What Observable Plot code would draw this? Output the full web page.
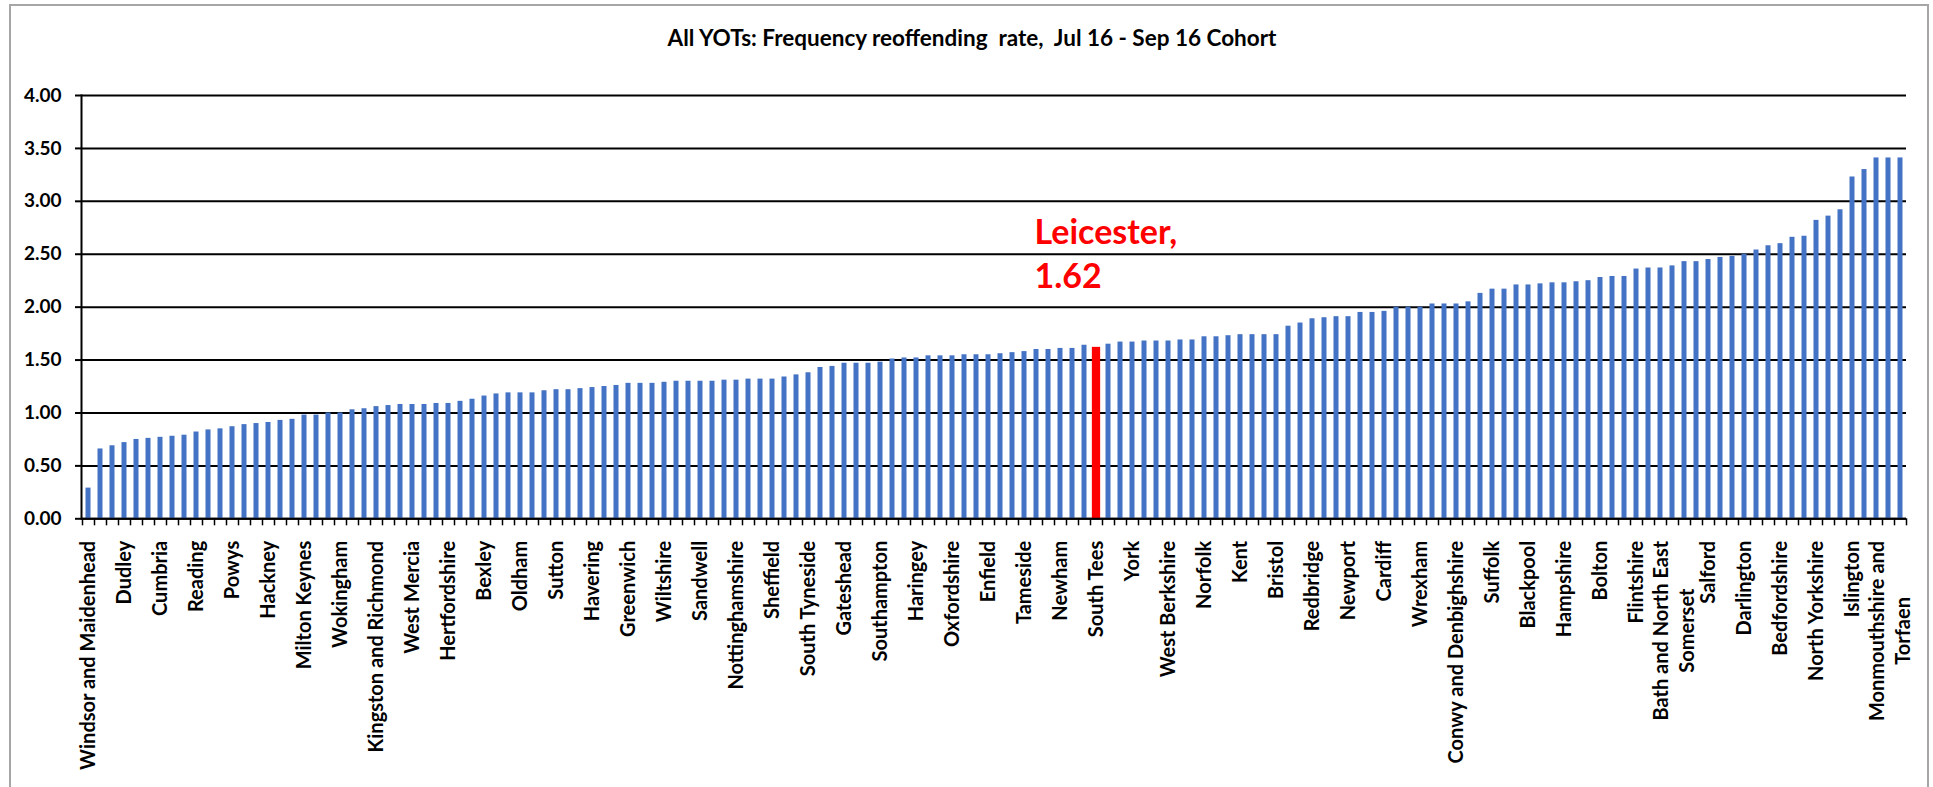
<!DOCTYPE html>
<html>
<head>
<meta charset="utf-8">
<script src="https://cdn.jsdelivr.net/npm/d3@7"></script>
<script src="https://cdn.jsdelivr.net/npm/@observablehq/plot@0.6"></script>
<style>
  html, body { margin: 0; padding: 0; background: #fff; }
  #chart { position: relative; width: 1933px; height: 787px; overflow: hidden; }
  #border { position: absolute; left: 9px; top: 4px; width: 1920px; height: 900px;
            border: 2px solid #a6a6a6; box-sizing: border-box; }
  #chart svg { position: absolute; left: 0; top: 0; }
  #chart svg text { white-space: pre; }
</style>
</head>
<body>
<div id="chart"><div id="border"></div></div>
<script>
// Chart title
const title = "All YOTs: Frequency reoffending  rate,  Jul 16 - Sep 16 Cohort";

// Category labels shown on the axis (one for every third YOT, in rank order)
const tickLabels = [
  "Windsor and Maidenhead", "Dudley", "Cumbria", "Reading", "Powys", "Hackney",
  "Milton Keynes", "Wokingham", "Kingston and Richmond", "West Mercia", "Hertfordshire",
  "Bexley", "Oldham", "Sutton", "Havering", "Greenwich", "Wiltshire", "Sandwell",
  "Nottinghamshire", "Sheffield", "South Tyneside", "Gateshead", "Southampton",
  "Haringey", "Oxfordshire", "Enfield", "Tameside", "Newham", "South Tees", "York",
  "West Berkshire", "Norfolk", "Kent", "Bristol", "Redbridge", "Newport", "Cardiff",
  "Wrexham", "Conwy and Denbighshire", "Suffolk", "Blackpool", "Hampshire", "Bolton",
  "Flintshire", "Bath and North East\nSomerset", "Salford", "Darlington", "Bedfordshire",
  "North Yorkshire", "Islington", "Monmouthshire and\nTorfaen"
];
const labelEvery = 3;

// Frequency reoffending rate of every YOT, sorted ascending
const rates = [
  0.29, 0.66, 0.69, 0.72, 0.75, 0.76, 0.77, 0.78, 0.79, 0.82,
  0.84, 0.85, 0.87, 0.89, 0.90, 0.91, 0.93, 0.94, 0.98, 0.98,
  1.00, 1.00, 1.03, 1.04, 1.06, 1.07, 1.08, 1.08, 1.08, 1.09,
  1.09, 1.11, 1.13, 1.16, 1.18, 1.19, 1.19, 1.19, 1.21, 1.22,
  1.22, 1.23, 1.24, 1.25, 1.26, 1.28, 1.28, 1.28, 1.29, 1.30,
  1.30, 1.30, 1.30, 1.31, 1.31, 1.32, 1.32, 1.32, 1.34, 1.36,
  1.38, 1.43, 1.44, 1.47, 1.47, 1.47, 1.48, 1.51, 1.52, 1.52,
  1.54, 1.54, 1.54, 1.55, 1.55, 1.55, 1.56, 1.57, 1.58, 1.60,
  1.60, 1.61, 1.61, 1.64, 1.62, 1.65, 1.67, 1.67, 1.68, 1.68,
  1.68, 1.69, 1.69, 1.72, 1.72, 1.73, 1.74, 1.74, 1.74, 1.74,
  1.82, 1.85, 1.89, 1.90, 1.91, 1.91, 1.95, 1.95, 1.96, 2.00,
  2.00, 2.00, 2.03, 2.03, 2.03, 2.05, 2.13, 2.17, 2.17, 2.21,
  2.21, 2.22, 2.23, 2.23, 2.24, 2.25, 2.28, 2.29, 2.29, 2.36,
  2.37, 2.37, 2.39, 2.43, 2.43, 2.45, 2.47, 2.48, 2.50, 2.54,
  2.58, 2.60, 2.66, 2.67, 2.82, 2.86, 2.92, 3.23, 3.30, 3.41,
  3.41, 3.41
];

// The highlighted YOT and its position in the ranking
const highlightName = "Leicester";
const highlightRank = 84;

// Value axis ticks
const yTicks = [0, 0.5, 1, 1.5, 2, 2.5, 3, 3.5, 4];

const blue = "#4472C4";
const red = "#FF0000";
const font = "Lato, 'Open Sans', sans-serif";
const labelSize = 20;

const rows = rates.map((rate, i) => ({i, rate}));
const labelRows = tickLabels.map((name, k) => ({i: k * labelEvery, name}));
const singleLine = labelRows.filter(d => !d.name.includes("\n"));
const multiLine = labelRows.filter(d => d.name.includes("\n"));

// Wrapped labels keep their lines centred on each other, with the block flush to the axis
const ctx = document.createElement("canvas").getContext("2d");
ctx.font = `bold ${labelSize}px Lato`;
const blockLength = s => d3.max(s.split("\n"), line => ctx.measureText(line).width);

const labelGap = 22;

const chart = Plot.plot({
  width: 1933,
  height: 787,
  marginLeft: 81,
  marginRight: 27,
  marginTop: 95,
  marginBottom: 268.7,
  style: {fontFamily: font, color: "#000", background: "transparent"},
  x: {type: "band", domain: rows.map(d => d.i), padding: 0, axis: null},
  y: {domain: [0, 4], axis: null},
  marks: [
    Plot.gridY(yTicks, {stroke: "#000", strokeOpacity: 1, strokeWidth: 2}),
    Plot.axisY(yTicks, {
      label: null, tickSize: 6, tickPadding: 14, strokeWidth: 2,
      tickFormat: d3.format(".2f"), fontSize: 19, fontWeight: "bold", fill: "#000"
    }),
    Plot.barY(rows.filter(d => d.i !== highlightRank), {
      x: "i", y: "rate", fill: blue, insetLeft: 3.5, insetRight: 3.5
    }),
    Plot.barY(rows.filter(d => d.i === highlightRank), {
      x: "i", y: "rate", fill: red, insetLeft: 1.85, insetRight: 1.85
    }),
    Plot.frame({anchor: "left", stroke: "#000", strokeWidth: 2}),
    Plot.ruleY([0], {stroke: "#000", strokeWidth: 2}),
    // tick marks sit on the category boundaries
    Plot.axisX({label: null, tickSize: 7, tickFormat: () => "", dx: -6, strokeWidth: 1.5}),
    Plot.axisX([rows[rows.length - 1].i], {label: null, tickSize: 7, tickFormat: () => "", dx: 6, strokeWidth: 1.5}),
    Plot.text(singleLine, {
      x: "i", text: "name", frameAnchor: "bottom", rotate: -90,
      textAnchor: "end", lineAnchor: "middle", dy: labelGap,
      fontSize: labelSize, fontWeight: "bold", fill: "#000"
    }),
    ...multiLine.map(d => Plot.text([d], {
      x: "i", text: "name", frameAnchor: "bottom", rotate: -90,
      textAnchor: "middle", lineAnchor: "middle", lineHeight: 1.3,
      dy: labelGap + blockLength(d.name) / 2,
      fontSize: labelSize, fontWeight: "bold", fill: "#000"
    })),
    Plot.text(rows.filter(d => d.i === highlightRank), {
      x: "i", y: "rate",
      text: d => `${highlightName},\n${d.rate.toFixed(2)}`,
      textAnchor: "start", lineAnchor: "top", lineHeight: 1.3,
      dx: -62, dy: -135,
      fontSize: 34, fontWeight: "bold", fill: red
    }),
    Plot.text([title], {
      text: d => d, frameAnchor: "top", dx: -22, dy: -65,
      fontSize: 22.5, fontWeight: "bold", fill: "#000"
    })
  ]
});

document.getElementById("chart").appendChild(chart);
</script>
</body>
</html>
